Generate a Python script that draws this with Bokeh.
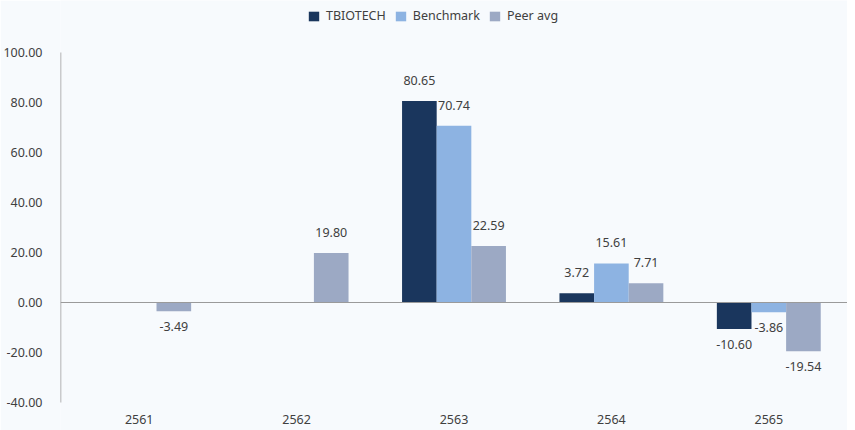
from bokeh.plotting import figure
from bokeh.models import ColumnDataSource, FactorRange, Range1d, Span, Legend, LegendItem, NumeralTickFormatter, FixedTicker
from bokeh.transform import dodge
from bokeh.core.properties import value
from bokeh.embed import file_html
from bokeh.resources import INLINE

years = ["2561", "2562", "2563", "2564", "2565"]
tbiotech = [None, None, 80.65, 3.72, -10.60]
benchmark = [None, None, 70.74, 15.61, -3.86]
peer_avg = [-3.49, 19.80, 22.59, 7.71, -19.54]
series_names = ["TBIOTECH", "Benchmark", "Peer avg"]
y_ticks = [-40, -20, 0, 20, 40, 60, 80, 100]

colors = ["#1A365D", "#8DB3E2", "#9CA9C4"]
offsets = [-0.22, 0.0, 0.22]
BG = "#F7FAFD"
FONT = "Noto Sans"
FS = "12.5px"
TXT = "#404040"
AX = "#9A9A9A"

H = 430
TOP_PX = 52     # canvas px of the highest tick
BOT_PX = 402    # canvas px of the lowest tick
ppu = (BOT_PX - TOP_PX) / (y_ticks[-1] - y_ticks[0])
y_lo = y_ticks[0] - (H - BOT_PX) / ppu
y_hi = y_ticks[-1] + TOP_PX / ppu

p = figure(x_range=FactorRange(*years, range_padding=0), y_range=Range1d(y_lo, y_hi),
           width=847, height=H, output_backend="svg", toolbar_location=None,
           x_axis_location=None,
           min_border_left=52, min_border_right=0, min_border_top=0, min_border_bottom=0,
           background_fill_color=BG, border_fill_color=BG, outline_line_color=None)
p.xgrid.grid_line_color = None
p.ygrid.grid_line_color = None

legend_items = []
for name, vals, col, off in zip(series_names, [tbiotech, benchmark, peer_avg], colors, offsets):
    xs = [y for y, v in zip(years, vals) if v is not None]
    vs = [v for v in vals if v is not None]
    src = ColumnDataSource(dict(x=xs, v=vs))
    r = p.vbar(x=dodge("x", off, range=p.x_range), top="v", bottom=0, width=0.22,
               source=src, fill_color=col, line_color=None)
    legend_items.append(LegendItem(label=name, renderers=[r]))
    pos = ColumnDataSource(dict(x=[x for x, v in zip(xs, vs) if v >= 0],
                                v=[v for v in vs if v >= 0],
                                t=["%.2f" % v for v in vs if v >= 0]))
    neg = ColumnDataSource(dict(x=[x for x, v in zip(xs, vs) if v < 0],
                                v=[v for v in vs if v < 0],
                                t=["%.2f" % v for v in vs if v < 0]))
    p.text(x=dodge("x", off, range=p.x_range), y="v", text="t", source=pos,
           text_align="center", text_baseline="bottom", y_offset=-16,
           text_font=value(FONT), text_font_size=FS, text_color=TXT)
    p.text(x=dodge("x", off, range=p.x_range), y="v", text="t", source=neg,
           text_align="center", text_baseline="top", y_offset=11,
           text_font=value(FONT), text_font_size=FS, text_color=TXT)

# zero line
p.add_layout(Span(location=0, dimension="width", line_color=AX, line_width=1))

# y axis line from lowest to highest tick at the left edge of the first category
axsrc = ColumnDataSource(dict(x=[years[0]], y0=[y_ticks[0]], y1=[y_ticks[-1]]))
p.segment(x0=dodge("x", -0.5, range=p.x_range), x1=dodge("x", -0.5, range=p.x_range),
          y0="y0", y1="y1", source=axsrc, line_color=AX, line_width=1.5)

# category labels below the lowest tick
catsrc = ColumnDataSource(dict(x=years, y=[y_ticks[0]] * len(years)))
p.text(x="x", y="y", text="x", source=catsrc, text_align="center", text_baseline="middle",
       y_offset=17, text_font=value(FONT), text_font_size=FS, text_color=TXT)

p.yaxis.ticker = FixedTicker(ticks=y_ticks)
p.yaxis.formatter = NumeralTickFormatter(format="0.00")
p.yaxis.axis_line_color = None
p.yaxis.major_tick_line_color = None
p.yaxis.minor_tick_line_color = None
p.yaxis.major_label_standoff = 12
p.yaxis.major_label_text_font = FONT
p.yaxis.major_label_text_font_size = FS
p.yaxis.major_label_text_color = TXT

legend = Legend(items=legend_items, orientation="horizontal", location=(247, H - 24),
                background_fill_alpha=0, border_line_color=None,
                glyph_width=13, glyph_height=12, label_height=12, padding=0, spacing=8,
                label_standoff=6, label_text_font=FONT, label_text_font_size=FS,
                label_text_color=TXT, margin=0)
p.add_layout(legend, "center")

html = file_html(p, INLINE)
html = html.replace("<body>", '<body style="background:%s">' % BG, 1)
open("out.html", "w").write(html)
